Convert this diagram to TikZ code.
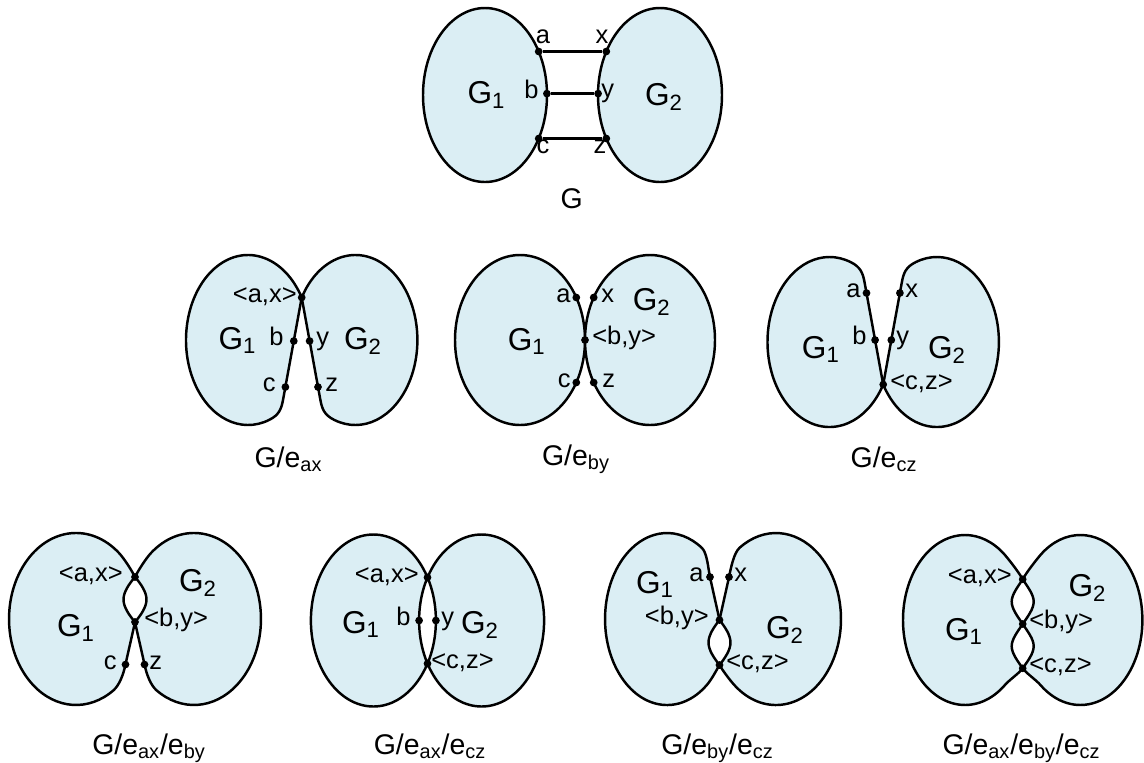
\documentclass[tikz,border=0pt]{standalone}
\usepackage{fontspec}
\setmainfont{Liberation Sans}
\definecolor{blobfill}{RGB}{219,238,244}
\tikzset{
  blob/.style={fill=blobfill, draw=black, line width=1.4pt, line join=round},
  dot/.style={circle, fill=black, inner sep=0pt, minimum size=4.4pt},
  lbl/.style={font=\fontsize{14.5}{17}\selectfont, inner sep=0pt},
  big/.style={font=\fontsize{18}{21}\selectfont, inner sep=0pt, anchor=base},
  figcap/.style={font=\fontsize{16.2}{19}\selectfont, inner sep=0pt, anchor=base},
  link/.style={line width=1.4pt}
}
\begin{document}
\begin{tikzpicture}[x=0.02cm, y=-0.02cm]
\useasboundingbox (0,0) rectangle (1144,762);

% ---------- G ----------
\path[blob] (485,95) ellipse[x radius=62, y radius=87];
\path[blob] (660,95) ellipse[x radius=62, y radius=87];
\node[dot] (ga) at (538.7,51.5) {};
\node[dot] (gb) at (546.9,93.6) {};
\node[dot] (gc) at (538.7,138.5) {};
\node[dot] (gx) at (606.3,51.5) {};
\node[dot] (gy) at (598.1,93.6) {};
\node[dot] (gz) at (606.3,138.5) {};
\draw[link] (ga) -- (gx);
\draw[link] (gb) -- (gy);
\draw[link] (gc) -- (gz);
\node[lbl, anchor=mid] (ga-l) at (543,39) {a};
\node[lbl, anchor=mid] (gx-l) at (602,39) {x};
\node[lbl, anchor=mid east] (gb-l) at (539,94) {b};
\node[lbl, anchor=mid west] (gy-l) at (601,93) {y};
\node[lbl, anchor=mid] (gc-l) at (543,149) {c};
\node[lbl, anchor=mid] (gz-l) at (600,149) {z};
\node[big] (g-G1) at (486.5,103.5) {G\textsubscript{1}};
\node[big] (g-G2) at (664,105) {G\textsubscript{2}};
\node[figcap] (g-cap) at (571.7,208) {G};

% ---------- G/e_ax ----------
\path[blob] (301.7,297.5) arc[start angle=330, end angle=70, x radius=62, y radius=85]
  .. controls (279.1,415) and (281.4,408.8) .. (283,400) -- cycle;
\path[blob] (301.7,297.5) arc[start angle=210, end angle=470, x radius=62, y radius=85]
  .. controls (324.3,415) and (322,408.8) .. (320.4,400) -- cycle;
\node[dot] (p1ax) at (301.7,297.5) {};
\node[dot] (p1b) at (293.8,341) {};
\node[dot] (p1c) at (285.4,387) {};
\node[dot] (p1y) at (309.6,341) {};
\node[dot] (p1z) at (318,387) {};
\node[lbl, anchor=mid east] (p1ax-l) at (297,297.5) {<a,x>};
\node[lbl, anchor=mid east] (p1b-l) at (284,341) {b};
\node[lbl, anchor=mid west] (p1y-l) at (316,341) {y};
\node[lbl, anchor=mid east] (p1c-l) at (276,387) {c};
\node[lbl, anchor=mid west] (p1z-l) at (325,387) {z};
\node[big] (p1-G1) at (237.5,349) {G\textsubscript{1}};
\node[big] (p1-G2) at (363,349) {G\textsubscript{2}};
\node[figcap] (p1-cap) at (288.5,467) {G/e\textsubscript{ax}};

% ---------- G/e_by ----------
\path[blob] (520,340) ellipse[x radius=65, y radius=85];
\path[blob] (650,340) ellipse[x radius=65, y radius=85];
\node[dot] (p2a) at (576.3,297.5) {};
\node[dot] (p2c) at (576.3,382.5) {};
\node[dot] (p2x) at (593.7,297.5) {};
\node[dot] (p2z) at (593.7,382.5) {};
\node[dot] (p2by) at (585,340) {};
\node[lbl, anchor=mid east] (p2a-l) at (571,297.5) {a};
\node[lbl, anchor=mid west] (p2x-l) at (601,297.5) {x};
\node[lbl, anchor=mid west] (p2by-l) at (592,340) {<b,y>};
\node[lbl, anchor=mid east] (p2c-l) at (571,382.5) {c};
\node[lbl, anchor=mid west] (p2z-l) at (602,382.5) {z};
\node[big] (p2-G1) at (526.7,350) {G\textsubscript{1}};
\node[big] (p2-G2) at (651.7,310) {G\textsubscript{2}};
\node[figcap] (p2-cap) at (576,465) {G/e\textsubscript{by}};

% ---------- G/e_cz ----------
\path[blob] (883.2,384.5) arc[start angle=30, end angle=290, x radius=62, y radius=85]
  .. controls (860.6,267) and (862.9,273.2) .. (864.5,282) -- cycle;
\path[blob] (883.2,384.5) arc[start angle=150, end angle=-110, x radius=62, y radius=85]
  .. controls (905.8,267) and (903.5,273.2) .. (901.9,282) -- cycle;
\node[dot] (p3cz) at (883.2,384.5) {};
\node[dot] (p3a) at (866.5,293) {};
\node[dot] (p3b) at (875.1,340) {};
\node[dot] (p3x) at (899.9,293) {};
\node[dot] (p3y) at (891.3,340) {};
\node[lbl, anchor=mid east] (p3a-l) at (861,293) {a};
\node[lbl, anchor=mid west] (p3x-l) at (905,293) {x};
\node[lbl, anchor=mid east] (p3b-l) at (867,340) {b};
\node[lbl, anchor=mid west] (p3y-l) at (896,340) {y};
\node[lbl, anchor=mid west] (p3cz-l) at (890,384.5) {<c,z>};
\node[big] (p3-G1) at (820.8,358) {G\textsubscript{1}};
\node[big] (p3-G2) at (947,358) {G\textsubscript{2}};
\node[figcap] (p3-cap) at (884,467) {G/e\textsubscript{cz}};

% ---------- G/e_ax/e_by ----------
\path[blob] (135,622) .. controls (129,615) and (123.5,607) .. (123.5,599.5)
  .. controls (123.5,592) and (129,584) .. (135,577)
  .. controls (131.5,570) and (124.2,558.6) .. (119.1,553.1)
  arc[start angle=310, end angle=56, x radius=67, y radius=86]
  .. controls (119.5,685.1) and (123.5,674) .. (125.5,664.5)
  .. controls (127.5,655) and (132,636) .. (135,622) -- cycle;
\path[blob] (135,622) .. controls (141,615) and (146.5,607) .. (146.5,599.5)
  .. controls (146.5,592) and (141,584) .. (135,577)
  .. controls (138.5,570) and (145.8,558.6) .. (150.9,553.1)
  arc[start angle=230, end angle=484, x radius=67, y radius=86]
  .. controls (150.5,685.1) and (146.5,674) .. (144.5,664.5)
  .. controls (142.5,655) and (138,636) .. (135,622) -- cycle;
\node[dot] (p4ax) at (135,577) {};
\node[dot] (p4by) at (135,622) {};
\node[dot] (p4c) at (125.5,664.5) {};
\node[dot] (p4z) at (144.5,664.5) {};
\node[lbl, anchor=mid east] (p4ax-l) at (123,577) {<a,x>};
\node[lbl, anchor=mid west] (p4by-l) at (144,622) {<b,y>};
\node[lbl, anchor=mid east] (p4c-l) at (117,664.5) {c};
\node[lbl, anchor=mid west] (p4z-l) at (149,664.5) {z};
\node[big] (p4-G1) at (76,636.7) {G\textsubscript{1}};
\node[big] (p4-G2) at (198,591.7) {G\textsubscript{2}};
\node[figcap] (p4-cap) at (149,754) {G/e\textsubscript{ax}/e\textsubscript{by}};

% ---------- G/e_ax/e_cz ----------
\path[blob, even odd rule] (373.4,620.5) ellipse[x radius=62.5, y radius=86]
  (481.6,620.5) ellipse[x radius=62.5, y radius=86];
\node[dot] (p5ax) at (427.5,577.4) {};
\node[dot] (p5cz) at (427.5,663.6) {};
\node[dot] (p5b) at (419.1,620.5) {};
\node[dot] (p5y) at (435.9,620.5) {};
\node[lbl, anchor=mid east] (p5ax-l) at (419,577.4) {<a,x>};
\node[lbl, anchor=mid east] (p5b-l) at (411,620.5) {b};
\node[lbl, anchor=mid west] (p5y-l) at (441,620.5) {y};
\node[lbl, anchor=mid west] (p5cz-l) at (431,663.6) {<c,z>};
\node[big] (p5-G1) at (361,633) {G\textsubscript{1}};
\node[big] (p5-G2) at (480,633) {G\textsubscript{2}};
\node[figcap] (p5-cap) at (430,754) {G/e\textsubscript{ax}/e\textsubscript{cz}};

% ---------- G/e_by/e_cz ----------
\path[blob] (719.5,620) .. controls (714,627) and (708.5,635) .. (708.5,642.5)
  .. controls (708.5,650) and (714,658) .. (719.5,665)
  .. controls (716,671) and (711.5,679.6) .. (706.9,684.9)
  arc[start angle=50, end angle=304, x radius=62, y radius=86]
  .. controls (707.2,552.8) and (708,567.5) .. (710,577)
  .. controls (712,586.5) and (716.5,606) .. (719.5,620) -- cycle;
\path[blob] (719.5,620) .. controls (725,627) and (730.5,635) .. (730.5,642.5)
  .. controls (730.5,650) and (725,658) .. (719.5,665)
  .. controls (723,671) and (729.7,679.9) .. (734.2,684.9)
  arc[start angle=130, end angle=-124, x radius=65, y radius=86]
  .. controls (733.8,552.9) and (731,567.5) .. (729,577)
  .. controls (727,586.5) and (722.5,606) .. (719.5,620) -- cycle;
\node[dot] (p6a) at (710,577) {};
\node[dot] (p6x) at (729,577) {};
\node[dot] (p6by) at (719.5,620) {};
\node[dot] (p6cz) at (719.5,665) {};
\node[lbl, anchor=mid east] (p6a-l) at (704,577) {a};
\node[lbl, anchor=mid west] (p6x-l) at (734,577) {x};
\node[lbl, anchor=mid east] (p6by-l) at (709,620) {<b,y>};
\node[lbl, anchor=mid west] (p6cz-l) at (726,665) {<c,z>};
\node[big] (p6-G1) at (655,593) {G\textsubscript{1}};
\node[big] (p6-G2) at (785,638) {G\textsubscript{2}};
\node[figcap] (p6-cap) at (717.5,754) {G/e\textsubscript{by}/e\textsubscript{cz}};

% ---------- G/e_ax/e_by/e_cz ----------
\path[blob] (1022.7,579.3) .. controls (1017.7,587) and (1011.7,594.5) .. (1011.7,601.6)
  .. controls (1011.7,609) and (1017.7,616.5) .. (1022.7,624)
  .. controls (1017.7,631.5) and (1011.7,639) .. (1011.7,646.2)
  .. controls (1011.7,653.5) and (1017.7,661) .. (1022.7,668.3)
  .. controls (1019.5,673) and (1009.5,679.7) .. (1004.85,685.1)
  arc[start angle=50, end angle=310, x radius=62, y radius=85]
  .. controls (1009.5,560.3) and (1019,572.5) .. (1022.7,579.3) -- cycle;
\path[blob] (1022.7,579.3) .. controls (1027.7,587) and (1033.7,594.5) .. (1033.7,601.6)
  .. controls (1033.7,609) and (1027.7,616.5) .. (1022.7,624)
  .. controls (1027.7,631.5) and (1033.7,639) .. (1033.7,646.2)
  .. controls (1033.7,653.5) and (1027.7,661) .. (1022.7,668.3)
  .. controls (1025.9,673) and (1035.9,679.7) .. (1040.55,685.1)
  arc[start angle=130, end angle=-130, x radius=62, y radius=85]
  .. controls (1035.9,560.3) and (1026.4,572.5) .. (1022.7,579.3) -- cycle;
\node[dot] (p7ax) at (1022.7,579.3) {};
\node[dot] (p7by) at (1022.7,624) {};
\node[dot] (p7cz) at (1022.7,668.3) {};
\node[lbl, anchor=mid east] (p7ax-l) at (1012,579.3) {<a,x>};
\node[lbl, anchor=mid west] (p7by-l) at (1029,624) {<b,y>};
\node[lbl, anchor=mid west] (p7cz-l) at (1029,668.3) {<c,z>};
\node[big] (p7-G1) at (964,640) {G\textsubscript{1}};
\node[big] (p7-G2) at (1087.5,596.7) {G\textsubscript{2}};
\node[figcap] (p7-cap) at (1021.5,754) {G/e\textsubscript{ax}/e\textsubscript{by}/e\textsubscript{cz}};
\end{tikzpicture}
\end{document}
